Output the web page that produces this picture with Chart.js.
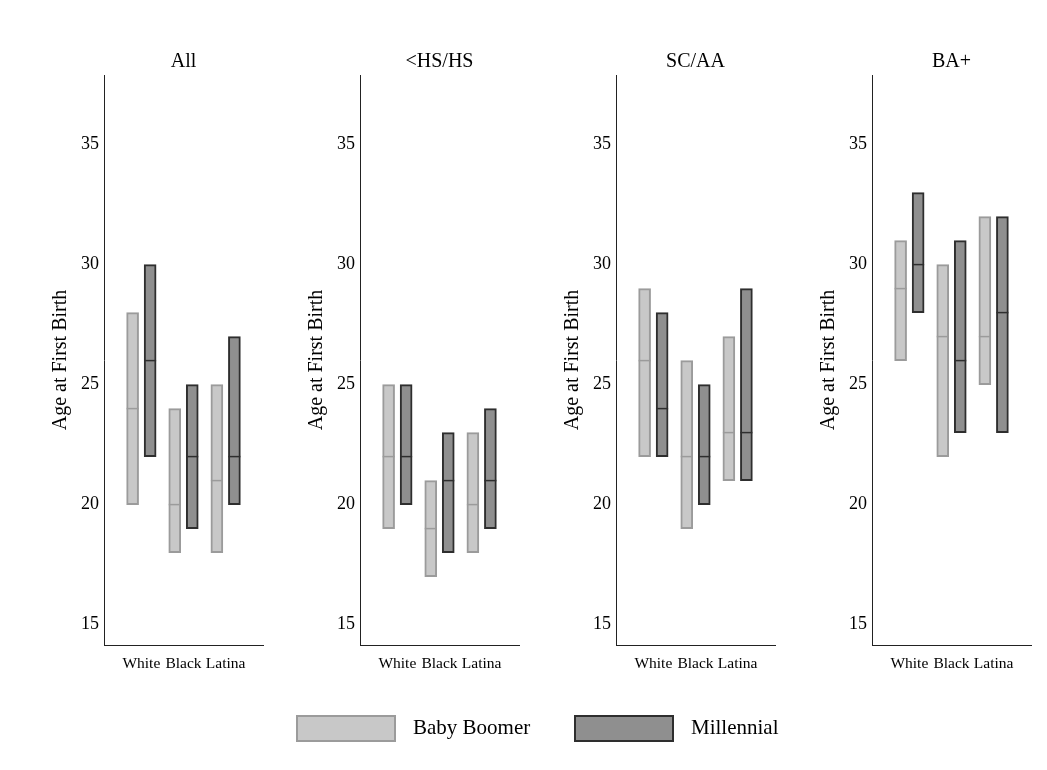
<!DOCTYPE html>
<html>
<head>
<meta charset="utf-8">
<script src="https://cdn.jsdelivr.net/npm/chart.js@4/dist/chart.umd.min.js"></script>
<style>
  html, body { margin: 0; padding: 0; background: #fff; }
  #wrap { position: relative; width: 1047px; height: 770px; overflow: hidden; }
  #wrap canvas { position: absolute; top: 0; }
  .lg-box { position: absolute; top: 715px; width: 100px; height: 27px; box-sizing: border-box; border: 2px solid; }
  .lg-text { position: absolute; top: 715px; height: 27px; line-height: 27px; font: 21px "Liberation Serif", "Times New Roman", serif; color: #000; white-space: nowrap; }
</style>
</head>
<body>
<div id="wrap">
  <canvas id="p0" width="280" height="700"></canvas>
  <canvas id="p1" width="280" height="700"></canvas>
  <canvas id="p2" width="280" height="700"></canvas>
  <canvas id="p3" width="280" height="700"></canvas>
  <div class="lg-box" style="left:296px;background:#c8c8c8;border-color:#9b9b9b;"></div>
  <div class="lg-text" id="lg0" style="left:413px;"></div>
  <div class="lg-box" style="left:574px;background:#8f8f8f;border-color:#2e2e2e;"></div>
  <div class="lg-text" id="lg1" style="left:691px;"></div>
</div>
<script>
// Age at first birth: range (low–high) and median, by race/ethnicity,
// for each education group and generation.
const categories = ['White', 'Black', 'Latina'];
const panels = ['All', '<HS/HS', 'SC/AA', 'BA+'];
const seriesNames = ['Baby Boomer', 'Millennial'];
const yTicks = [15, 20, 25, 30, 35];

const boomerLow    = [[20, 18, 18], [19, 17, 18], [22, 19, 21], [26, 22, 25]];
const boomerHigh   = [[28, 24, 25], [25, 21, 23], [29, 26, 27], [31, 30, 32]];
const boomerMedian = [[24, 20, 21], [22, 19, 20], [26, 22, 23], [29, 27, 27]];

const millLow      = [[22, 19, 20], [20, 18, 19], [22, 20, 21], [28, 23, 23]];
const millHigh     = [[30, 25, 27], [25, 23, 24], [28, 25, 29], [33, 31, 32]];
const millMedian   = [[26, 22, 22], [22, 21, 21], [24, 22, 23], [30, 26, 28]];

// styling
const SERIF = '"Liberation Serif", "Times New Roman", serif';
const BOOMER = { fill: '#c8c8c8', edge: '#9b9b9b' };
const MILL   = { fill: '#8f8f8f', edge: '#2e2e2e' };
const SHIFT = 0.208;          // half distance between the two bars of a group
const X_MIN = 0.113, X_MAX = 3.887;
const Y_MIN = 14.15, Y_MAX = 37.9;
const panelLeft = [0, 256, 512, 768];

document.getElementById('lg0').textContent = seriesNames[0];
document.getElementById('lg1').textContent = seriesNames[1];

function rangeData(lo, hi, shift) {
  return categories.map((c, i) => ({ x: i + 1 + shift, y: [lo[i], hi[i]] }));
}
function medianData(med, shift) {
  return categories.map((c, i) => ({ x: i + 1 + shift, y: med[i] }));
}

panels.forEach((name, p) => {
  const canvas = document.getElementById('p' + p);
  canvas.style.left = panelLeft[p] + 'px';
  new Chart(canvas, {
    data: {
      datasets: [
        {
          type: 'bar', label: seriesNames[0],
          data: rangeData(boomerLow[p], boomerHigh[p], -SHIFT),
          backgroundColor: BOOMER.fill, borderColor: BOOMER.edge,
          borderWidth: 2, borderSkipped: false, barThickness: 12, grouped: false,
          order: 2
        },
        {
          type: 'bar', label: seriesNames[1],
          data: rangeData(millLow[p], millHigh[p], SHIFT),
          backgroundColor: MILL.fill, borderColor: MILL.edge,
          borderWidth: 2, borderSkipped: false, barThickness: 12, grouped: false,
          order: 2
        },
        {
          type: 'scatter', label: seriesNames[0] + ' median',
          data: medianData(boomerMedian[p], -SHIFT),
          pointStyle: 'line', pointRadius: 6, borderWidth: 1.5,
          borderColor: BOOMER.edge, order: 1
        },
        {
          type: 'scatter', label: seriesNames[1] + ' median',
          data: medianData(millMedian[p], SHIFT),
          pointStyle: 'line', pointRadius: 6, borderWidth: 1.5,
          borderColor: MILL.edge, order: 1
        }
      ]
    },
    options: {
      responsive: false,
      animation: false,
      events: [],
      layout: { padding: { left: 0, top: 0, right: 17, bottom: 25 } },
      plugins: { legend: { display: false }, tooltip: { enabled: false }, title: { display: false } },
      scales: {
        x: {
          type: 'linear', position: 'bottom', min: X_MIN, max: X_MAX, offset: false,
          grid: { display: false, drawTicks: false, offset: false },
          border: { display: true, color: '#222', width: 1 },
          afterBuildTicks: s => { s.ticks = categories.map((c, i) => ({ value: i + 1 })); },
          ticks: {
            autoSkip: false, maxRotation: 0, padding: 10, color: '#000',
            font: { family: SERIF, size: 15.5 },
            callback: v => categories[Math.round(v) - 1]
          },
          afterFit: s => { s.height = 30; }
        },
        xTop: {
          type: 'linear', position: 'top', min: X_MIN, max: X_MAX, offset: false,
          grid: { display: false, drawTicks: false, offset: false },
          border: { display: false },
          ticks: { display: false },
          title: {
            display: true, text: name, color: '#000',
            font: { family: SERIF, size: 20 },
            padding: { top: 49.5, bottom: 0 }
          },
          afterFit: s => { s.height = 75; }
        },
        y: {
          type: 'linear', position: 'left', min: Y_MIN, max: Y_MAX,
          grid: { display: false, drawTicks: false },
          border: { display: true, color: '#222', width: 1 },
          afterBuildTicks: s => { s.ticks = yTicks.map(v => ({ value: v })); },
          ticks: { padding: 5, color: '#000', font: { family: SERIF, size: 18 } },
          title: {
            display: true, text: 'Age at First Birth', color: '#000',
            font: { family: SERIF, size: 20 },
            padding: { top: 49, bottom: 0 }
          },
          afterFit: s => { s.width = 104; }
        }
      }
    }
  });
});
</script>
</body>
</html>
